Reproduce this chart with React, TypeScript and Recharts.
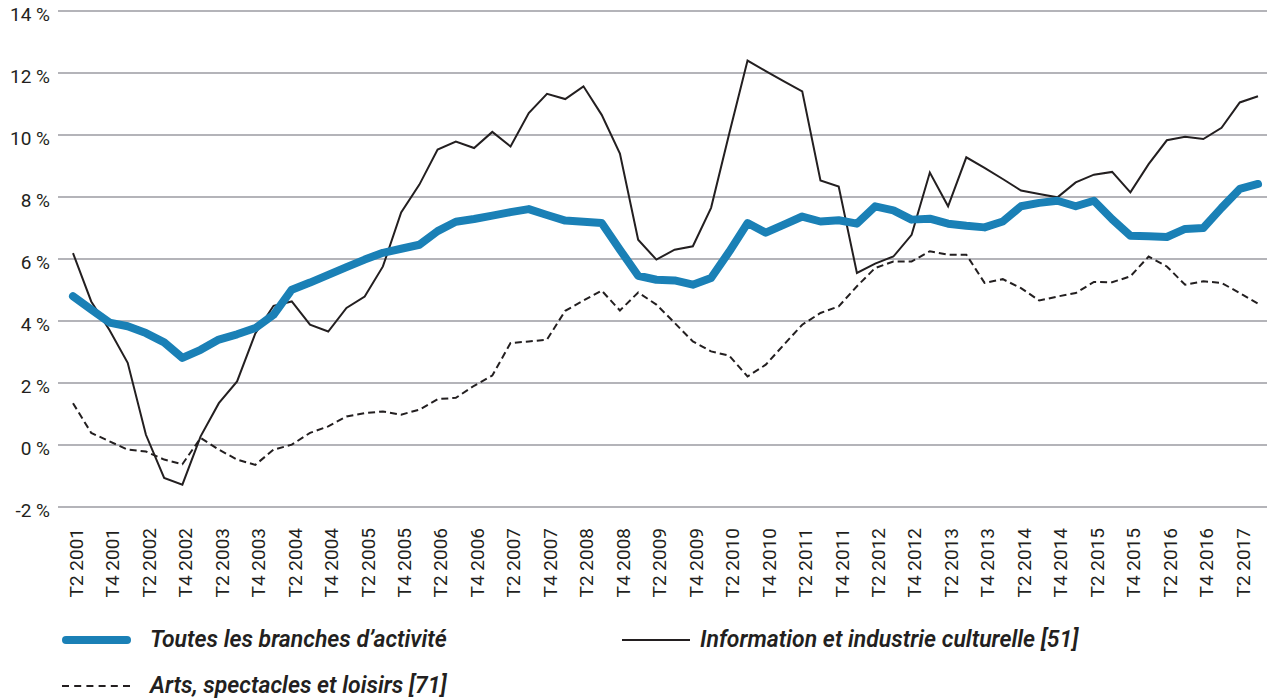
import React from 'react';
import { LineChart, Line, XAxis, YAxis, CartesianGrid } from 'recharts';

const quarters = [
  'T2 2001', 'T3 2001', 'T4 2001', 'T1 2002', 'T2 2002', 'T3 2002', 'T4 2002', 'T1 2003',
  'T2 2003', 'T3 2003', 'T4 2003', 'T1 2004', 'T2 2004', 'T3 2004', 'T4 2004', 'T1 2005',
  'T2 2005', 'T3 2005', 'T4 2005', 'T1 2006', 'T2 2006', 'T3 2006', 'T4 2006', 'T1 2007',
  'T2 2007', 'T3 2007', 'T4 2007', 'T1 2008', 'T2 2008', 'T3 2008', 'T4 2008', 'T1 2009',
  'T2 2009', 'T3 2009', 'T4 2009', 'T1 2010', 'T2 2010', 'T3 2010', 'T4 2010', 'T1 2011',
  'T2 2011', 'T3 2011', 'T4 2011', 'T1 2012', 'T2 2012', 'T3 2012', 'T4 2012', 'T1 2013',
  'T2 2013', 'T3 2013', 'T4 2013', 'T1 2014', 'T2 2014', 'T3 2014', 'T4 2014', 'T1 2015',
  'T2 2015', 'T3 2015', 'T4 2015', 'T1 2016', 'T2 2016', 'T3 2016', 'T4 2016', 'T1 2017',
  'T2 2017', 'T3 2017',
];

const toutesBranches = [
  4.8, 4.37, 3.95, 3.83, 3.61, 3.31, 2.81, 3.07, 3.4, 3.57, 3.77, 4.2, 5.01, 5.24, 5.49, 5.74,
  5.98, 6.2, 6.33, 6.46, 6.9, 7.2, 7.29, 7.4, 7.51, 7.61, 7.42, 7.24, 7.2, 7.16, 6.3, 5.46,
  5.33, 5.31, 5.17, 5.39, 6.24, 7.16, 6.85, 7.11, 7.37, 7.21, 7.25, 7.14, 7.7, 7.57, 7.27, 7.3,
  7.14, 7.07, 7.02, 7.21, 7.7, 7.81, 7.88, 7.7, 7.88, 7.28, 6.75, 6.73, 6.71, 6.97, 7.0, 7.65,
  8.26, 8.42,
];

const informationCulture = [
  6.19, 4.63, 3.71, 2.65, 0.33, -1.06, -1.28, 0.28, 1.35, 2.05, 3.6, 4.49, 4.63, 3.88, 3.66, 4.42,
  4.79, 5.76, 7.5, 8.4, 9.53, 9.79, 9.58, 10.1, 9.63, 10.71, 11.33, 11.16, 11.57, 10.65, 9.4, 6.62,
  5.98, 6.3, 6.41, 7.65, 10.06, 12.4, 12.06, 11.73, 11.41, 8.53, 8.34, 5.55, 5.85, 6.08, 6.78, 8.79,
  7.7, 9.28, 8.94, 8.58, 8.21, 8.1, 7.99, 8.47, 8.72, 8.81, 8.15, 9.06, 9.83, 9.94, 9.87, 10.23,
  11.05, 11.25,
];

const artsSpectacles = [
  1.35, 0.39, 0.12, -0.15, -0.21, -0.47, -0.62, 0.23, -0.15, -0.47, -0.64, -0.15, 0.01, 0.39, 0.6, 0.92,
  1.03, 1.08, 0.98, 1.14, 1.48, 1.52, 1.91, 2.24, 3.29, 3.34, 3.4, 4.33, 4.66, 4.98, 4.34, 4.92,
  4.53, 3.94, 3.34, 3.02, 2.88, 2.21, 2.59, 3.24, 3.88, 4.26, 4.47, 5.12, 5.71, 5.92, 5.92, 6.25,
  6.14, 6.14, 5.23, 5.35, 5.06, 4.66, 4.79, 4.9, 5.26, 5.25, 5.44, 6.08, 5.76, 5.17, 5.28, 5.23,
  4.9, 4.56,
];

const yTicks = [-2, 0, 2, 4, 6, 8, 10, 12, 14];

const seriesNames = {
  toutes: 'Toutes les branches d’activité',
  info: 'Information et industrie culturelle [51]',
  arts: 'Arts, spectacles et loisirs [71]',
};

const BLUE = '#1a80b6';
const INK = '#231f20';
const GRID = '#b4b4b9';
const FONT = 'Roboto, "Liberation Sans", sans-serif';

const data = quarters.map((q, i) => ({
  q,
  toutes: toutesBranches[i],
  info: informationCulture[i],
  arts: artsSpectacles[i],
}));

const XTick = (props: any) => {
  const { x, y, payload } = props;
  return (
    <g transform={`translate(${x + 3},${y + 13})`}>
      <text
        transform="rotate(-90)"
        x={0}
        y={6.8}
        textAnchor="end"
        fill={INK}
        fontSize={19}
        fontFamily={FONT}
      >
        {payload.value}
      </text>
    </g>
  );
};

const YTick = (props: any) => {
  const { x, y, payload } = props;
  return (
    <text x={x} y={y + 9.5} textAnchor="end" fill={INK} fontSize={19} fontFamily={FONT}>
      {`${payload.value} %`}
    </text>
  );
};

const legendText: React.CSSProperties = {
  position: 'absolute',
  fontFamily: FONT,
  fontStyle: 'italic',
  fontWeight: 600,
  fontSize: 23,
  lineHeight: '26px',
  color: INK,
  whiteSpace: 'nowrap',
};

export default function App() {
  return (
    <div style={{ position: 'absolute', left: 0, top: 0, width: 1267, height: 700, background: '#fff' }}>
      <LineChart
        width={1267}
        height={620}
        data={data}
        margin={{ top: 11, right: 0, bottom: 0, left: 0 }}
      >
        <CartesianGrid vertical={false} stroke={GRID} strokeWidth={2} />
        <XAxis
          dataKey="q"
          scale="point"
          interval={1}
          tickLine={false}
          axisLine={false}
          height={113}
          padding={{ left: 15, right: 9 }}
          tick={<XTick />}
        />
        <YAxis
          type="number"
          domain={[-2, 14]}
          ticks={yTicks}
          width={58}
          tickLine={false}
          axisLine={false}
          tick={<YTick />}
        />
        <Line
          dataKey="arts"
          name={seriesNames.arts}
          type="linear"
          stroke={INK}
          strokeWidth={2}
          strokeDasharray="7 4"
          dot={false}
          isAnimationActive={false}
        />
        <Line
          dataKey="info"
          name={seriesNames.info}
          type="linear"
          stroke={INK}
          strokeWidth={2}
          dot={false}
          isAnimationActive={false}
        />
        <Line
          dataKey="toutes"
          name={seriesNames.toutes}
          type="linear"
          stroke={BLUE}
          strokeWidth={8}
          strokeLinecap="round"
          strokeLinejoin="round"
          dot={false}
          isAnimationActive={false}
        />
      </LineChart>

      <svg style={{ position: 'absolute', left: 0, top: 620 }} width={1267} height={80}>
        <line x1={66} x2={127} y1={20} y2={20} stroke={BLUE} strokeWidth={8} strokeLinecap="round" />
        <line x1={622} x2={690} y1={20} y2={20} stroke={INK} strokeWidth={2} />
        <line x1={62} x2={130} y1={66} y2={66} stroke={INK} strokeWidth={2} strokeDasharray="7 5.2" />
      </svg>
      <div style={{ ...legendText, left: 150, top: 627 }}>{seriesNames.toutes}</div>
      <div style={{ ...legendText, left: 700, top: 627 }}>{seriesNames.info}</div>
      <div style={{ ...legendText, left: 150, top: 673 }}>{seriesNames.arts}</div>
    </div>
  );
}
